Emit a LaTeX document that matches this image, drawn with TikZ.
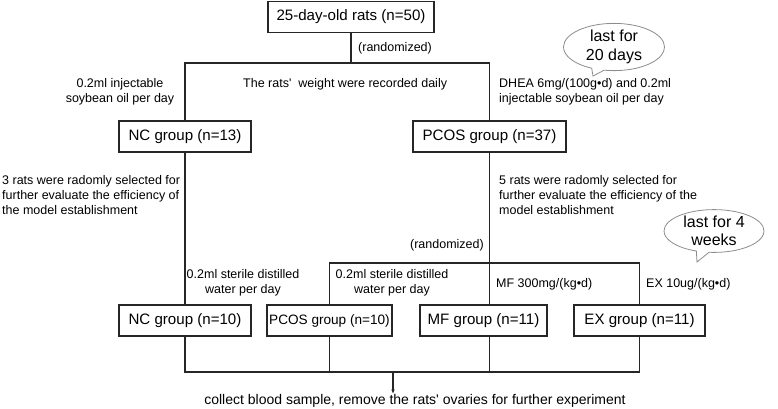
\documentclass[tikz,border=0pt]{standalone}
\usepackage{fontspec}
\setmainfont{Liberation Sans}
\usetikzlibrary{shapes, shapes.callouts, arrows.meta, positioning}
\colorlet{ln}{black!85}

\begin{document}
\begin{tikzpicture}[x=1pt, y=-1pt,
    grp/.style={draw=ln, line width=1.1pt, minimum height=31pt, inner sep=0pt, font=\fontsize{15.1}{17}\selectfont},
    lbl/.style={inner sep=0pt, font=\fontsize{12.5}{15}\selectfont},
    link/.style={draw=ln, line width=1.1pt},
    bubble/.style={ellipse callout, draw=black!45, line width=0.8pt, inner sep=0pt, align=center, font=\fontsize{16}{18.5}\selectfont}]
        \useasboundingbox (0,0) rectangle (778,409);
        \node[grp, minimum width=166pt] (rats) at (351,17) {25-day-old rats (n=50)};
        \node[grp, minimum width=132pt] (nc1) at (185,136.5) {NC group (n=13)};
        \node[grp, minimum width=153pt] (pcos1) at (489.5,136.5) {PCOS group (n=37)};
        \node[grp, minimum width=132pt] (nc2) at (185,320.5) {NC group (n=10)};
        \node[grp, minimum width=125pt, font=\fontsize{13.6}{16}\selectfont] (pcos2) at (329.5,320.5) {PCOS group (n=10)};
        \node[grp, minimum width=127pt] (mf) at (483.5,320.5) {MF group (n=11)};
        \node[grp, minimum width=131pt] (ex) at (639.5,320.5) {EX group (n=11)};
        \coordinate (split1) at (351,63);
        \coordinate (split2) at (489.5,263);
        \coordinate (merge) at (393,372);
        \draw[link] (rats.south) -- (split1);
        \draw[link] (nc1.north) |- (split1) -| (pcos1.north);
        \draw[link] (nc1.south) -- (nc2.north);
        \draw[link] (pcos1.south) -- (split2);
        \draw[link] (pcos2.north) |- (split2) -| (ex.north);
        \draw[link] (split2) -- (split2 |- mf.north);
        \draw[link] (nc2.south) |- (merge) -| (ex.south);
        \draw[link] (pcos2.south) -- (pcos2.south |- merge);
        \draw[link] (split2 |- mf.south) -- (split2 |- merge);
        \node[lbl, font=\fontsize{14}{16}\selectfont] (out) at (415,401) {collect blood sample, remove the rats\textquotesingle\ ovaries for further experiment};
        \draw[link, -{Latex[length=5pt,width=3.5pt]}] (merge) -- (merge |- out.north);
        \node[lbl, anchor=west] (rnd1) at (358,48) {(randomized)};
        \node[lbl, align=center] (oil) at (120,92) {0.2ml injectable\\soybean oil per day};
        \node[lbl, anchor=west] (wt) at (243,84) {The rats\textquotesingle\ \ weight were recorded daily};
        \node[lbl, anchor=west, align=left] (dhea) at (499,92) {DHEA 6mg/(100g•d) and 0.2ml\\injectable soybean oil per day};
        \node[lbl, anchor=west, align=left] (sel3) at (2,195) {3 rats were radomly selected for\\further evaluate the efficiency of\\the model establishment};
        \node[lbl, anchor=west, align=left] (sel5) at (499,195) {5 rats were radomly selected for\\further evaluate the efficiency of the\\model establishment};
        \node[lbl, anchor=east] (rnd2) at (484,245) {(randomized)};
        \node[lbl, align=center] (wat1) at (243,283) {0.2ml sterile distilled\\water per day};
        \node[lbl, align=center] (wat2) at (392,283) {0.2ml sterile distilled\\water per day};
        \node[lbl, anchor=west] (mfd) at (496,284) {MF 300mg/(kg•d)};
        \node[lbl, anchor=west] (exd) at (646,284) {EX 10ug/(kg•d)};
        \coordinate (tip1) at (593,76);
        \coordinate (tip2) at (697,262);
        \node[bubble, minimum width=101pt, minimum height=46pt, callout absolute pointer={(tip1)}] (days) at (614,47) {last for\\20 days};
        \node[bubble, minimum width=100pt, minimum height=38pt, callout absolute pointer={(tip2)}] (weeks) at (714,231) {last for 4\\weeks};
      \end{tikzpicture}
\end{document}
